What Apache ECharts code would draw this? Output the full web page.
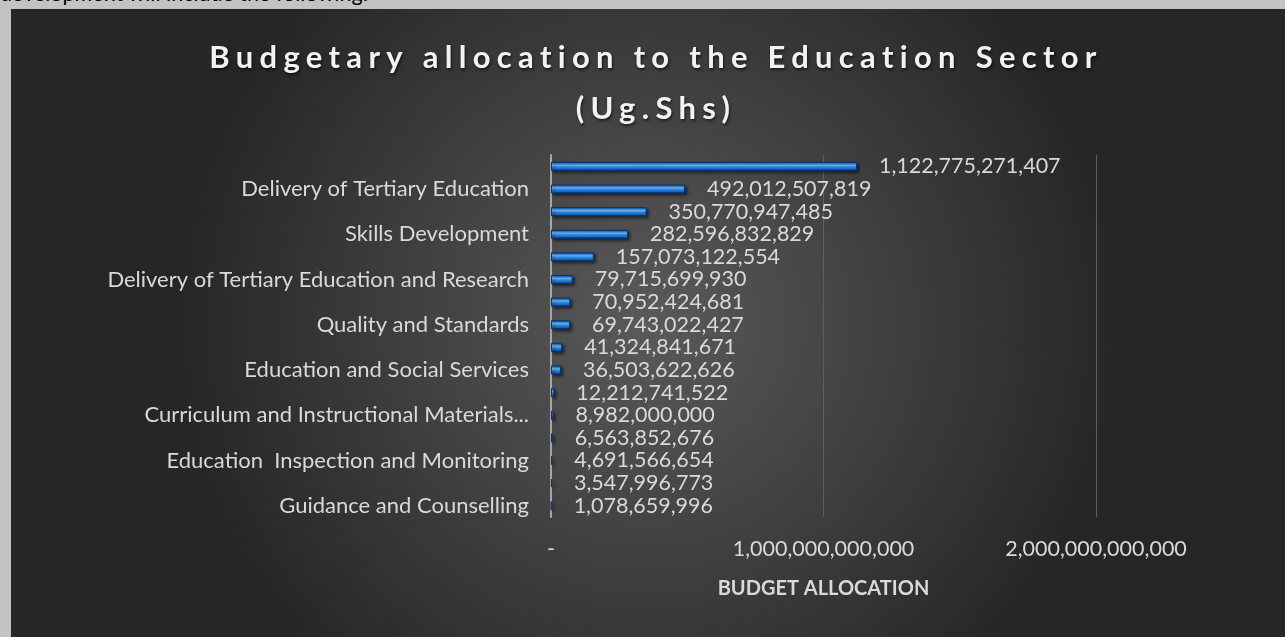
<!DOCTYPE html>
<html>
<head>
<meta charset="utf-8">
<script src="https://cdn.jsdelivr.net/npm/echarts@6/dist/echarts.min.js"></script>
<style>
  html, body { margin: 0; padding: 0; background: #c3c3c3; overflow: hidden; }
  #lead { position: absolute; left: 0; top: -20px; font: 21.5px Lato, sans-serif; color: #000; white-space: nowrap; }
  #chart { position: absolute; left: 0; top: 0; width: 1285px; height: 637px; }
</style>
</head>
<body>
<div id="lead">development will include the following:</div>
<div id="chart"></div>
<script>
// programmes, top to bottom (only every second name is printed on the axis)
const programmes = [
    'Delivery of Primary Education',
    'Delivery of Tertiary Education',
    'Delivery of Secondary Education',
    'Skills Development',
    'Policy, Planning and Support Services',
    'Delivery of Tertiary Education and Research',
    'Teacher Education',
    'Quality and Standards',
    'Special Needs Education',
    'Education and Social Services',
    'Physical Education and Sports',
    'Curriculum and Instructional Materials Development',
    'Pre-Primary Education',
    'Education  Inspection and Monitoring',
    'Examinations and Assessment',
    'Guidance and Counselling'
];
const allocation = [
    1122775271407, 492012507819, 350770947485, 282596832829,
    157073122554, 79715699930, 70952424681, 69743022427,
    41324841671, 36503622626, 12212741522, 8982000000,
    6563852676, 4691566654, 3547996773, 1078659996
];
const xTicks = [0, 1000000000000, 2000000000000];

const fmt = v => v === 0 ? '-' : Number(v).toLocaleString('en-US');
// excel cuts long category names short
const shorten = s => s.length > 45 ? s.slice(0, 38) + '...' : s;

const chart = echarts.init(document.getElementById('chart'));

// title sits on its own layer so it can get the wide tracking of the original
try {
    chart.getZr().painter.getLayer(1).ctx.letterSpacing = '6.3px';
} catch (e) {}

chart.setOption({
    backgroundColor: 'transparent',
    animation: false,
    graphic: [{
        type: 'rect',
        z: -10,
        shape: {x: 11, y: 9, width: 1274, height: 628},
        style: {
            fill: new echarts.graphic.RadialGradient(0.5, 0.5, 0.75, [
                {offset: 0, color: '#5a5a5a'},
                {offset: 1, color: '#262626'}
            ])
        }
    }],
    title: {
        text: 'Budgetary allocation to the Education Sector\n(Ug.Shs)',
        zlevel: 1,
        left: 651,
        textAlign: 'center',
        top: 27,
        textStyle: {
            color: '#f2f2f2',
            fontFamily: 'Lato',
            fontWeight: 'bold',
            fontSize: 31,
            lineHeight: 51,
            textShadowColor: 'rgba(0,0,0,0.6)',
            textShadowBlur: 3,
            textShadowOffsetX: 1,
            textShadowOffsetY: 2
        }
    },
    grid: {left: 551, right: 189, top: 155, bottom: 120, containLabel: false},
    xAxis: {
        type: 'value',
        min: xTicks[0],
        max: xTicks[xTicks.length - 1],
        interval: xTicks[1] - xTicks[0],
        name: 'BUDGET ALLOCATION',
        nameLocation: 'middle',
        nameGap: 62,
        nameTextStyle: {
            color: '#d9d9d9',
            fontFamily: 'Lato',
            fontWeight: 'bold',
            fontSize: 20
        },
        axisLine: {show: false},
        axisTick: {show: false},
        splitLine: {lineStyle: {color: '#5e5e5e', width: 1}},
        axisLabel: {
            color: '#d9d9d9',
            fontFamily: 'Lato',
            fontSize: 21.5,
            margin: 21,
            formatter: fmt
        }
    },
    yAxis: {
        type: 'category',
        inverse: true,
        data: programmes,
        axisLine: {lineStyle: {color: '#a6a6a6', width: 2}},
        axisTick: {show: false},
        axisLabel: {
            color: '#d9d9d9',
            fontFamily: 'Lato',
            fontSize: 22,
            margin: 22,
            interval: (i) => i % 2 === 1,
            formatter: shorten
        }
    },
    series: [{
        type: 'bar',
        data: allocation,
        barWidth: 9,
        itemStyle: {
            color: new echarts.graphic.LinearGradient(0, 0, 0, 1, [
                {offset: 0, color: '#0c4690'},
                {offset: 0.18, color: '#1c7fe2'},
                {offset: 0.38, color: '#86c6ff'},
                {offset: 0.55, color: '#2a8df0'},
                {offset: 0.82, color: '#1462c0'},
                {offset: 1, color: '#08306a'}
            ]),
            borderColor: '#0a3470',
            borderWidth: 1,
            shadowColor: 'rgba(0,0,0,0.55)',
            shadowBlur: 3,
            shadowOffsetX: 2,
            shadowOffsetY: 2
        },
        label: {
            show: true,
            position: 'right',
            distance: 22,
            color: '#d9d9d9',
            fontFamily: 'Lato',
            fontSize: 21.5,
            formatter: p => fmt(p.value)
        }
    }]
});
</script>
</body>
</html>
